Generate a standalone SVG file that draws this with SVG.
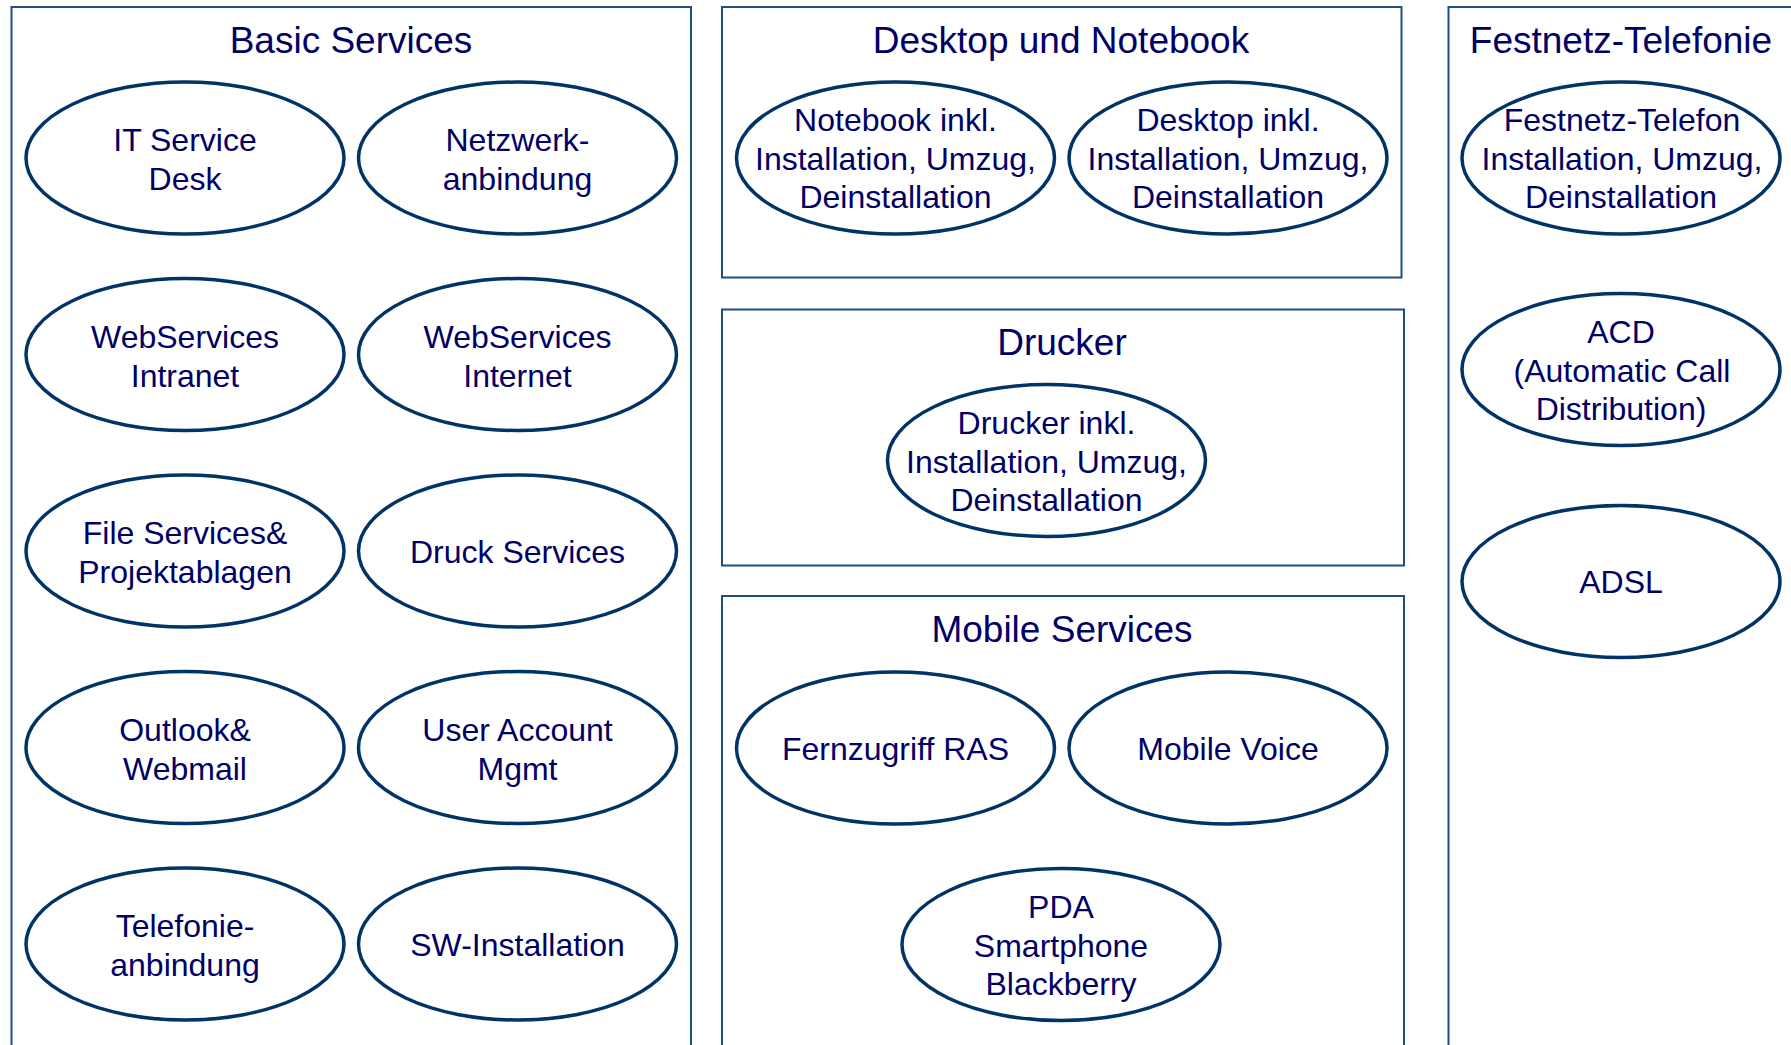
<svg xmlns="http://www.w3.org/2000/svg" width="1791" height="1045" viewBox="0 0 1791 1045">
<style>
.box{fill:none;stroke:#1f4f82;stroke-width:2}
.ell{fill:#fff;stroke:#003366;stroke-width:3.5}
.title{font-family:"Liberation Sans",Arial,sans-serif;font-size:37px;fill:#000066;text-anchor:middle}
.lbl{font-family:"Liberation Sans",Arial,sans-serif;font-size:32px;fill:#000066;text-anchor:middle}
</style>
<rect width="1791" height="1045" fill="#fff"/>
<g id="groups">
<g id="basic-services"><rect class="box" x="11.5" y="7" width="679.5" height="1060"/><text class="title" x="351" y="53">Basic Services</text></g>
<g id="desktop-notebook"><rect class="box" x="722" y="7" width="679.5" height="270.5"/><text class="title" x="1061" y="53">Desktop und Notebook</text></g>
<g id="drucker"><rect class="box" x="722" y="309.5" width="682" height="256"/><text class="title" x="1062" y="355">Drucker</text></g>
<g id="mobile-services"><rect class="box" x="722" y="596" width="682" height="470"/><text class="title" x="1062" y="642">Mobile Services</text></g>
<g id="festnetz-telefonie"><rect class="box" x="1448.5" y="7" width="360" height="1060"/><text class="title" x="1621" y="53">Festnetz-Telefonie</text></g>
</g>
<g id="nodes">
<g id="it-service-desk"><ellipse class="ell" cx="185" cy="158" rx="159" ry="76"/><text class="lbl" x="185" y="151">IT Service</text><text class="lbl" x="185" y="190">Desk</text></g>
<g id="netzwerkanbindung"><ellipse class="ell" cx="517.5" cy="158" rx="159" ry="76"/><text class="lbl" x="517.5" y="151">Netzwerk-</text><text class="lbl" x="517.5" y="190">anbindung</text></g>
<g id="webservices-intranet"><ellipse class="ell" cx="185" cy="354.5" rx="159" ry="76"/><text class="lbl" x="185" y="347.5">WebServices</text><text class="lbl" x="185" y="386.5">Intranet</text></g>
<g id="webservices-internet"><ellipse class="ell" cx="517.5" cy="354.5" rx="159" ry="76"/><text class="lbl" x="517.5" y="347.5">WebServices</text><text class="lbl" x="517.5" y="386.5">Internet</text></g>
<g id="file-services"><ellipse class="ell" cx="185" cy="551" rx="159" ry="76"/><text class="lbl" x="185" y="544">File Services&amp;</text><text class="lbl" x="185" y="583">Projektablagen</text></g>
<g id="druck-services"><ellipse class="ell" cx="517.5" cy="551" rx="159" ry="76"/><text class="lbl" x="517.5" y="562.5">Druck Services</text></g>
<g id="outlook-webmail"><ellipse class="ell" cx="185" cy="747.5" rx="159" ry="76"/><text class="lbl" x="185" y="740.5">Outlook&amp;</text><text class="lbl" x="185" y="779.5">Webmail</text></g>
<g id="user-account-mgmt"><ellipse class="ell" cx="517.5" cy="747.5" rx="159" ry="76"/><text class="lbl" x="517.5" y="740.5">User Account</text><text class="lbl" x="517.5" y="779.5">Mgmt</text></g>
<g id="telefonieanbindung"><ellipse class="ell" cx="185" cy="944" rx="159" ry="76"/><text class="lbl" x="185" y="937">Telefonie-</text><text class="lbl" x="185" y="976">anbindung</text></g>
<g id="sw-installation"><ellipse class="ell" cx="517.5" cy="944" rx="159" ry="76"/><text class="lbl" x="517.5" y="955.5">SW-Installation</text></g>
<g id="notebook"><ellipse class="ell" cx="895.5" cy="158" rx="159" ry="76"/><text class="lbl" x="895.5" y="131">Notebook inkl.</text><text class="lbl" x="895.5" y="169.5">Installation, Umzug,</text><text class="lbl" x="895.5" y="208">Deinstallation</text></g>
<g id="desktop"><ellipse class="ell" cx="1228" cy="158" rx="159" ry="76"/><text class="lbl" x="1228" y="131">Desktop inkl.</text><text class="lbl" x="1228" y="169.5">Installation, Umzug,</text><text class="lbl" x="1228" y="208">Deinstallation</text></g>
<g id="drucker-inkl"><ellipse class="ell" cx="1046.5" cy="460.5" rx="159" ry="76"/><text class="lbl" x="1046.5" y="434">Drucker inkl.</text><text class="lbl" x="1046.5" y="472.5">Installation, Umzug,</text><text class="lbl" x="1046.5" y="511">Deinstallation</text></g>
<g id="fernzugriff-ras"><ellipse class="ell" cx="895.5" cy="748" rx="159" ry="76"/><text class="lbl" x="895.5" y="759.5">Fernzugriff RAS</text></g>
<g id="mobile-voice"><ellipse class="ell" cx="1228" cy="748" rx="159" ry="76"/><text class="lbl" x="1228" y="759.5">Mobile Voice</text></g>
<g id="pda"><ellipse class="ell" cx="1061" cy="944.5" rx="159" ry="76"/><text class="lbl" x="1061" y="918">PDA</text><text class="lbl" x="1061" y="956.5">Smartphone</text><text class="lbl" x="1061" y="995">Blackberry</text></g>
<g id="festnetz-telefon"><ellipse class="ell" cx="1621" cy="158" rx="159" ry="76"/><text class="lbl" x="1622" y="131">Festnetz-Telefon</text><text class="lbl" x="1622" y="169.5">Installation, Umzug,</text><text class="lbl" x="1621" y="208">Deinstallation</text></g>
<g id="acd"><ellipse class="ell" cx="1621" cy="369.5" rx="159" ry="76"/><text class="lbl" x="1621" y="343">ACD</text><text class="lbl" x="1622" y="381.5">(Automatic Call</text><text class="lbl" x="1621" y="420">Distribution)</text></g>
<g id="adsl"><ellipse class="ell" cx="1621" cy="581.5" rx="159" ry="76"/><text class="lbl" x="1621" y="593">ADSL</text></g>
</g>
<g id="connectors"/>
</svg>
